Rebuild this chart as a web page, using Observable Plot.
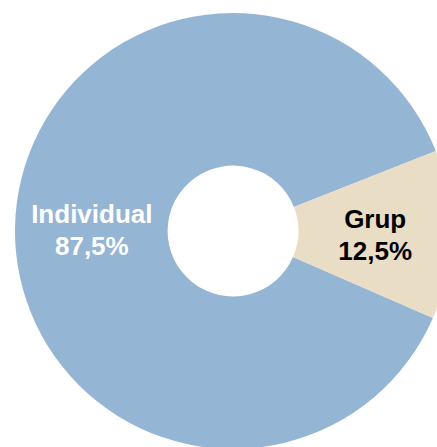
<!DOCTYPE html>
<html>
<head>
<meta charset="utf-8">
<script src="https://cdn.jsdelivr.net/npm/d3@7"></script>
<script src="https://cdn.jsdelivr.net/npm/@observablehq/plot@0.6"></script>
<style>
  html, body { margin: 0; padding: 0; background: #fff; }
  #chart svg { display: block; }
</style>
</head>
<body>
<div id="chart"></div>
<script>
// Data
const categories = ["Individual", "Grup"];
const values = [87.5, 12.5];
const valueLabels = ["87,5%", "12,5%"];
const sliceColors = ["#95b5d4", "#eaddc6"];
const labelColors = ["#ffffff", "#000000"];

// Geometry (in radius units)
const outerR = 1;
const innerR = 0.30;
const startDeg = 113.5;

const pie = d3.pie().sort(null).value(d => d.value)
  .startAngle(startDeg * Math.PI / 180)
  .endAngle((startDeg + 360) * Math.PI / 180);

const table = categories.map((c, i) => ({
  category: c, value: values[i], label: valueLabels[i],
  color: sliceColors[i], textColor: labelColors[i]
}));
const arcs = pie(table);

const unitArc = d3.arc().innerRadius(innerR).outerRadius(outerR);
const labels = arcs.map(a => {
  const [cx, cy] = unitArc.centroid(a);
  return {x: cx, y: -cy, text: a.data.category + "\n" + a.data.label, fill: a.data.textColor};
});

const W = 437, H = 447;
const pxPerUnit = 218;
const cxPx = 233, cyPx = 231;

function donutMark(index, scales, values, dimensions) {
  const sx = scales.x, sy = scales.y;
  const x0 = sx(0), y0 = sy(0);
  const r = sx(1) - sx(0);
  const arc = d3.arc().innerRadius(innerR * r).outerRadius(outerR * r);
  const g = d3.create("svg:g").attr("transform", `translate(${x0},${y0})`);
  g.selectAll("path").data(arcs).join("path")
    .attr("d", arc)
    .attr("fill", d => d.data.color);
  return g.node();
}

const chart = Plot.plot({
  width: W,
  height: H,
  margin: 0,
  x: {domain: [-cxPx / pxPerUnit, (W - cxPx) / pxPerUnit], axis: null},
  y: {domain: [-(H - cyPx) / pxPerUnit, cyPx / pxPerUnit], axis: null},
  marks: [
    donutMark,
    Plot.text(labels, {
      x: "x", y: "y", text: "text", fill: "fill",
      fontSize: 26, fontWeight: "bold", lineHeight: 1.24, dy: 0,
      fontFamily: "Liberation Sans, Arial, sans-serif"
    })
  ]
});
document.getElementById("chart").appendChild(chart);
</script>
</body>
</html>
